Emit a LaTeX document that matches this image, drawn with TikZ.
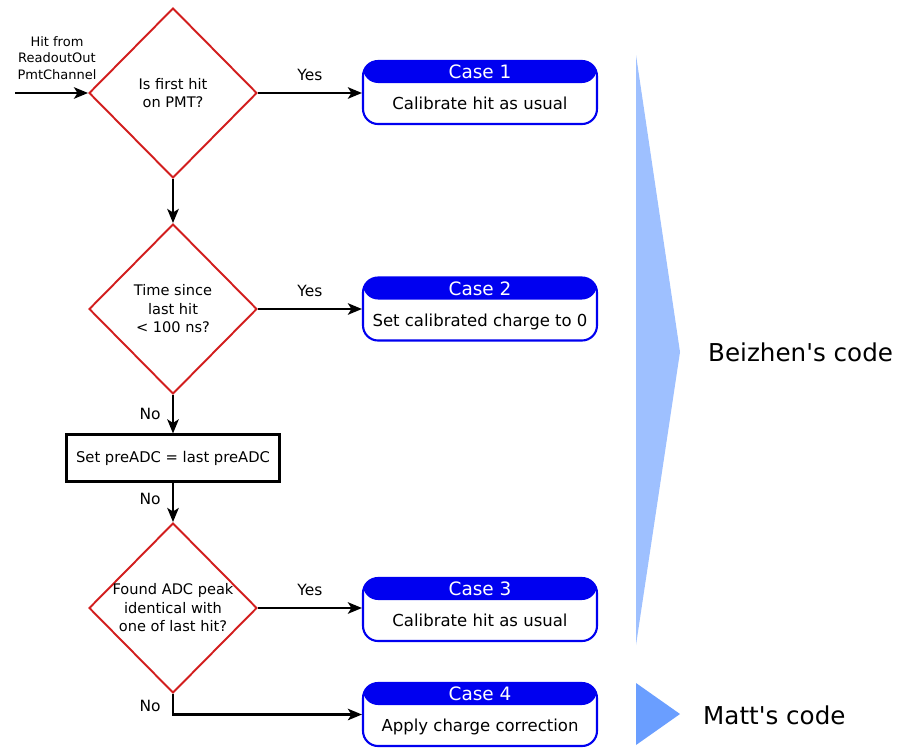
\documentclass[tikz,border=0pt]{standalone}
\usepackage{fontspec}
\setmainfont{DejaVu Sans}
\usetikzlibrary{shapes.geometric,arrows.meta,positioning,calc}
\definecolor{decisionred}{RGB}{210,30,30}
\definecolor{caseblue}{RGB}{0,0,240}
\definecolor{beizhencolor}{RGB}{158,192,255}
\definecolor{mattcolor}{RGB}{106,158,255}

\begin{document}
\begin{tikzpicture}[x=0.02cm, y=-0.02cm,
  decision/.style={diamond, draw=decisionred, line width=1.1pt, minimum width=3.36cm,
                   minimum height=3.4cm, inner sep=0pt},
  dtext/.style={align=center, font=\fontsize{8.3}{10.5}\selectfont},
  casebox/.style={draw=caseblue, line width=1.2pt, rounded corners=0.3cm, fill=white,
                  minimum width=4.68cm, minimum height=1.26cm, font=\fontsize{9.4}{11}\selectfont,
                  text height=19.8pt, text depth=0pt,
                  path picture={\fill[caseblue] (path picture bounding box.north west)
                    rectangle ([yshift=-0.44cm]path picture bounding box.north east);}},
  casehead/.style={text=white, font=\fontsize{10.5}{12}\selectfont, text height=7.7pt,
                   text depth=0pt, yshift=0.41cm},
  procbox/.style={draw, line width=1.2pt, minimum width=4.26cm, minimum height=0.94cm,
                  font=\fontsize{8.4}{10}\selectfont},
  flow/.style={line width=1.4pt, -{Stealth[length=8pt, width=6.5pt, inset=2pt]}},
  branch/.style={font=\fontsize{8.8}{10}\selectfont}]

  \useasboundingbox (0,0) rectangle (898,747);

  \node[decision, label={[dtext]center:Is first hit\\on PMT?}] (first) at (173,93) {};
  \node[decision, label={[dtext]center:Time since\\last hit\\< 100 ns?}] (time) at (173,309) {};
  \node[procbox] (preadc) at (173,458) {Set preADC = last preADC};
  \node[decision, label={[dtext]center:Found ADC peak\\identical with\\one of last hit?}] (peak) at (173,608) {};

  \node[casebox, label={[casehead]center:Case 1}] (case1) at (480,92.5) {Calibrate hit as usual};
  \node[casebox, label={[casehead]center:Case 2}] (case2) at (480,309) {Set calibrated charge to 0};
  \node[casebox, label={[casehead]center:Case 3}] (case3) at (480,609.5) {Calibrate hit as usual};
  \node[casebox, label={[casehead]center:Case 4}] (case4) at (480,714.5) {Apply charge correction};

  \coordinate (input) at (15,93);
  \node[align=center, font=\fontsize{7.4}{9.4}\selectfont] (inputlbl) at (57,58)
       {Hit from\\ReadoutOut\\PmtChannel};

  \draw[flow] (input) -- (first.west);
  \draw[flow] (first.east) -- node[branch, above=3pt] (yes1) {Yes} (first.east -| case1.west);
  \draw[flow] (first.south) -- (time.north);
  \draw[flow] (time.east) -- node[branch, above=3pt] (yes2) {Yes} (time.east -| case2.west);
  \draw[flow] (time.south) -- node[branch, left=3pt] (no1) {No} (preadc.north);
  \draw[flow] (preadc.south) -- node[branch, left=3pt, yshift=2pt] (no2) {No} (peak.north);
  \draw[flow] (peak.east) -- node[branch, above=3pt] (yes3) {Yes} (peak.east -| case3.west);
  \draw[flow] (peak.south) |- node[branch, pos=0.5, left=3pt, yshift=5pt] (no3) {No} (case4.west);

  \fill[beizhencolor] (636,55) -- (680,352) -- (636,645) -- cycle;
  \fill[mattcolor] (636,683) -- (680,714) -- (636,745) -- cycle;
  \node[anchor=west, font=\fontsize{14}{16}\selectfont] (beizhen) at (702,352) {Beizhen\textquotesingle s code};
  \node[anchor=west, font=\fontsize{14}{16}\selectfont] (matt) at (697,715) {Matt\textquotesingle s code};
\end{tikzpicture}
\end{document}
